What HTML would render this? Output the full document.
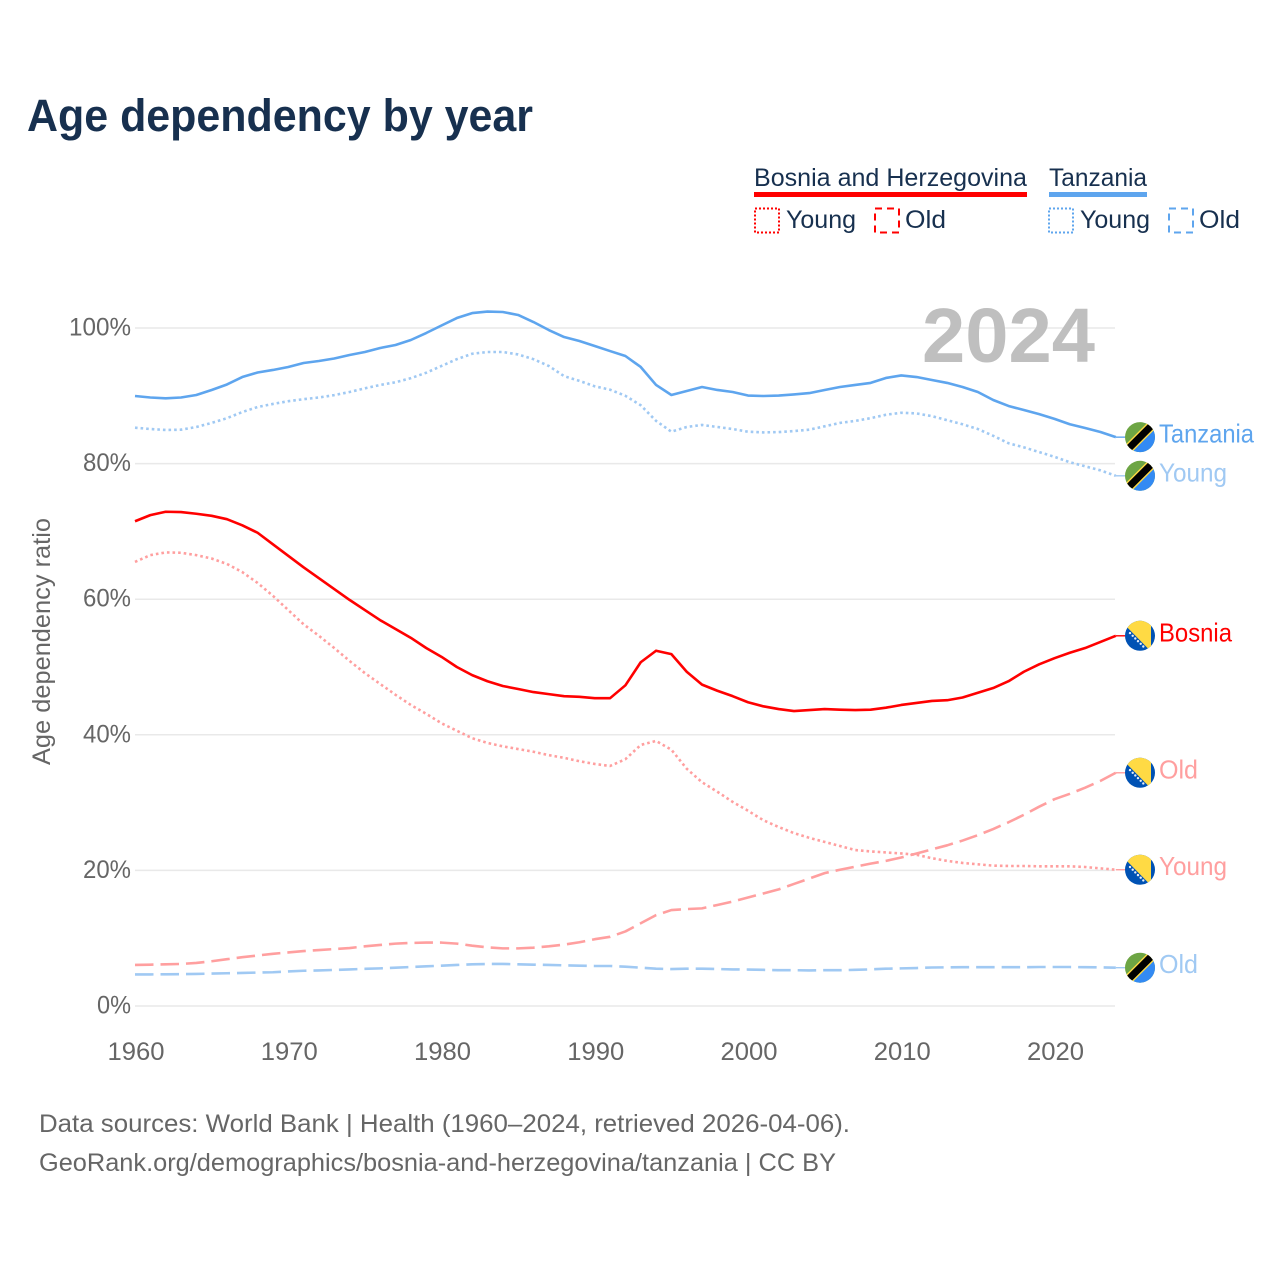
<!DOCTYPE html>
<html lang="en">
<head>
<meta charset="utf-8">
<title>Age dependency by year</title>
<style>
html,body{margin:0;padding:0;background:#fff}
svg{display:block}
text{font-family:"Liberation Sans",sans-serif}
</style>
</head>
<body>
<svg id="chart" xmlns="http://www.w3.org/2000/svg" width="1280" height="1280" viewBox="0 0 1280 1280">
<defs>
<clipPath id="flag-clip"><circle cx="0" cy="0" r="15"/></clipPath>
</defs>
<text x="27" y="131" font-size="45" font-weight="700" fill="#17304f" textLength="506" lengthAdjust="spacingAndGlyphs">Age dependency by year</text>

<g>
<text x="754" y="186" font-size="25" fill="#17304f" textLength="273" lengthAdjust="spacingAndGlyphs">Bosnia and Herzegovina</text>
<rect x="754" y="192" width="273" height="5" fill="#ff0000"/>
<text x="1049" y="186" font-size="25" fill="#17304f" textLength="98" lengthAdjust="spacingAndGlyphs">Tanzania</text>
<rect x="1049" y="192" width="98" height="5" fill="#5ea5ee"/>
<rect x="755" y="208.500" width="24" height="24" fill="none" stroke="#ff0000" stroke-width="2" stroke-dasharray="2 2"/>
<text x="786" y="228" font-size="25" fill="#17304f" textLength="70" lengthAdjust="spacingAndGlyphs">Young</text>
<rect x="875" y="208.500" width="24" height="24" fill="none" stroke="#ff0000" stroke-width="2" stroke-dasharray="7 5"/>
<text x="905" y="228" font-size="25" fill="#17304f" textLength="41" lengthAdjust="spacingAndGlyphs">Old</text>
<rect x="1049" y="208.500" width="24" height="24" fill="none" stroke="#5ea5ee" stroke-width="2" stroke-dasharray="2 2"/>
<text x="1080" y="228" font-size="25" fill="#17304f" textLength="70" lengthAdjust="spacingAndGlyphs">Young</text>
<rect x="1169" y="208.500" width="24" height="24" fill="none" stroke="#5ea5ee" stroke-width="2" stroke-dasharray="7 5"/>
<text x="1199" y="228" font-size="25" fill="#17304f" textLength="41" lengthAdjust="spacingAndGlyphs">Old</text>
</g>

<g id="grid"></g>
<g id="yticks"></g>
<g id="xticks"></g>

<text x="922" y="362" font-size="77" font-weight="700" fill="#bfbfbf" textLength="173" lengthAdjust="spacingAndGlyphs">2024</text>
<text transform="translate(50,765) rotate(-90)" font-size="25" fill="#666666" textLength="247" lengthAdjust="spacingAndGlyphs">Age dependency ratio</text>

<g id="series"></g>
<g id="end-labels"></g>

<text x="39" y="1132" font-size="25" fill="#666666" textLength="811" lengthAdjust="spacingAndGlyphs">Data sources: World Bank | Health (1960–2024, retrieved 2026-04-06).</text>
<text x="39" y="1171" font-size="25" fill="#666666" textLength="797" lengthAdjust="spacingAndGlyphs">GeoRank.org/demographics/bosnia-and-herzegovina/tanzania | CC BY</text>
</svg>

<script>
const firstYear = 1960;
const xTickLabels = [1960, 1970, 1980, 1990, 2000, 2010, 2020];
const yTickLabels = [0, 20, 40, 60, 80, 100];

const tanzaniaTotal = [89.97,89.75,89.63,89.75,90.12,90.86,91.67,92.77,93.44,93.81,
  94.25,94.84,95.13,95.5,96.02,96.46,97.05,97.49,98.23,99.26,
  100.37,101.47,102.2,102.43,102.36,101.92,100.88,99.7,98.67,98.08,
  97.35,96.6,95.87,94.25,91.6,90.12,90.7,91.3,90.86,90.56,
  90.04,89.97,90.04,90.2,90.4,90.86,91.3,91.6,91.9,92.63,
  93.0,92.77,92.33,91.9,91.3,90.56,89.38,88.5,87.9,87.3,
  86.6,85.8,85.25,84.66,83.9];
const tanzaniaYoung = [85.3,85.1,84.96,85.0,85.4,86.0,86.7,87.6,88.35,88.8,
  89.2,89.5,89.75,90.1,90.56,91.1,91.6,92.0,92.6,93.4,
  94.4,95.4,96.2,96.46,96.46,96.1,95.4,94.4,92.9,92.2,
  91.4,90.9,90.0,88.6,86.3,84.7,85.4,85.7,85.4,85.1,
  84.7,84.6,84.65,84.8,85.0,85.5,86.0,86.3,86.7,87.2,
  87.5,87.4,87.0,86.4,85.8,85.1,84.1,83.0,82.4,81.7,
  81.0,80.2,79.6,79.0,78.2];
const tanzaniaOld = [4.65,4.66,4.68,4.7,4.73,4.78,4.83,4.88,4.93,4.98,
  5.1,5.2,5.25,5.32,5.4,5.48,5.55,5.65,5.75,5.85,
  5.95,6.05,6.15,6.2,6.2,6.15,6.1,6.05,6,5.95,
  5.9,5.9,5.8,5.65,5.5,5.45,5.5,5.5,5.45,5.4,
  5.38,5.33,5.28,5.28,5.25,5.28,5.28,5.33,5.4,5.5,
  5.55,5.6,5.68,5.7,5.72,5.72,5.72,5.72,5.72,5.75,
  5.75,5.75,5.72,5.7,5.65];
const bosniaTotal = [71.5,72.4,72.9,72.85,72.6,72.3,71.8,70.9,69.8,68.1,
  66.4,64.7,63.1,61.5,59.9,58.4,56.9,55.6,54.3,52.8,
  51.5,50,48.8,47.9,47.2,46.75,46.3,46,45.7,45.6,
  45.4,45.4,47.3,50.7,52.4,51.9,49.3,47.4,46.5,45.7,
  44.8,44.2,43.8,43.5,43.65,43.8,43.7,43.65,43.7,44.0,
  44.4,44.7,45,45.1,45.5,46.2,46.9,47.9,49.3,50.4,
  51.3,52.1,52.8,53.7,54.6];
const bosniaYoung = [65.5,66.5,66.9,66.85,66.5,66,65.2,64,62.4,60.5,
  58.4,56.3,54.6,52.8,50.9,49.1,47.5,45.9,44.4,43.1,
  41.7,40.6,39.5,38.8,38.3,37.9,37.5,37,36.6,36.1,
  35.7,35.4,36.4,38.5,39.1,37.8,35,33,31.6,30.1,
  28.8,27.4,26.4,25.5,24.8,24.2,23.6,23,22.8,22.65,
  22.5,22.3,21.8,21.4,21.1,20.9,20.7,20.65,20.65,20.6,
  20.6,20.6,20.5,20.3,20.1];
const bosniaOld = [6.05,6.1,6.15,6.2,6.35,6.6,6.9,7.2,7.45,7.7,
  7.9,8.1,8.25,8.4,8.55,8.8,9,9.2,9.3,9.35,
  9.35,9.2,8.9,8.65,8.5,8.5,8.6,8.8,9.05,9.4,
  9.85,10.2,11,12.2,13.4,14.15,14.3,14.4,14.9,15.4,
  16,16.6,17.2,18,18.8,19.6,20.1,20.55,21,21.4,
  21.9,22.5,23.1,23.7,24.4,25.2,26.1,27.1,28.2,29.4,
  30.5,31.3,32.2,33.2,34.4];

const SVGNS = 'http://www.w3.org/2000/svg';
const xAxis = year => 135 + (year - firstYear) * 15.325;
const yAxis = value => 1006 - value * 6.78;

function make(tag, attrs, parent) {
  const el = document.createElementNS(SVGNS, tag);
  for (const k in attrs) el.setAttribute(k, attrs[k]);
  parent.appendChild(el);
  return el;
}

const gridG = document.getElementById('grid');
const yG = document.getElementById('yticks');
const xG = document.getElementById('xticks');
const seriesG = document.getElementById('series');
const labelsG = document.getElementById('end-labels');

yTickLabels.forEach(v => {
  const line = make('line', {x1: 135, x2: 1115, y1: yAxis(v), y2: yAxis(v), stroke: '#e9e9e9', 'stroke-width': 1.5}, gridG);
  
  
  const t = make('text', {x: 131, y: yAxis(v) + 7.5, 'text-anchor': 'end', 'font-size': 25, fill: '#666666', textLength: 14 * String(v).length + 20, lengthAdjust: 'spacingAndGlyphs'}, yG);
  
  
  t.textContent = v + '%';
});

xTickLabels.forEach(v => {
  const t = make('text', {x: xAxis(v) + 1, y: 1060, 'text-anchor': 'middle', 'font-size': 25, fill: '#666666', textLength: 57, lengthAdjust: 'spacingAndGlyphs'}, xG);
  
  
  t.textContent = v;
});

function drawLine(values, color, dash, name) {
  const pts = values.map((v, i) => xAxis(firstYear + i).toFixed(2) + ',' + yAxis(v).toFixed(2));
  const attrs = {points: pts.join(' '), fill: 'none', stroke: color, 'stroke-width': 2.6, 'stroke-linejoin': 'round'};
  if (dash) attrs['stroke-dasharray'] = dash;
  const el = make('polyline', attrs, seriesG);
  
  
  const lastY = yAxis(values[values.length - 1]);
  const stub = make('line', {x1: xAxis(firstYear + values.length - 1), x2: 1125, y1: lastY, y2: lastY, stroke: color, 'stroke-width': 1.4}, seriesG);
  
  
}

const DOT = '2.6 3';
const DASH = '18.500 7';
drawLine(tanzaniaOld, '#a0c9f3', DASH, 'line-tanzania-old');
drawLine(tanzaniaYoung, '#a0c9f3', DOT, 'line-tanzania-young');
drawLine(bosniaOld, '#ff9f9f', DASH, 'line-bosnia-old');
drawLine(bosniaYoung, '#ff9f9f', DOT, 'line-bosnia-young');
drawLine(tanzaniaTotal, '#5ea5ee', '', 'line-tanzania-total');
drawLine(bosniaTotal, '#ff0000', '', 'line-bosnia-total');

function drawTanzaniaFlag(g) {
  make('rect', {x: -16, y: -16, width: 32, height: 32, fill: '#6da544'}, g);
  make('polygon', {points: '-16,16 16,-16 16,16', fill: '#338af3'}, g);
  make('polygon', {points: '-16,9 9,-16 16,-16 16,-9 -9,16 -16,16', fill: '#ffda44'}, g);
  make('polygon', {points: '-16,11 11,-16 16,-16 16,-11 -11,16 -16,16', fill: '#000000'}, g);
}

function drawBosniaFlag(g) {
  make('rect', {x: -16, y: -16, width: 32, height: 32, fill: '#0052b4'}, g);
  make('polygon', {points: '-15,-10.700 9,13.700 11,13.700 11,-16 -15,-16', fill: '#ffda44'}, g);
  [[-10,-2.700],[-7.300,0],[-4.700,2.700],[-2,5.400],[0.700,8],[3.300,10.700]].forEach(p => {
    make('circle', {cx: p[0], cy: p[1], r: 1.2, fill: '#e8eef7'}, g);
  });
}

function drawEnd(values, label, color, flag, width, name) {
  const cy = yAxis(values[values.length - 1]);
  const g = make('g', {transform: 'translate(1140,' + cy.toFixed(2) + ')', 'clip-path': 'url(#flag-clip)'}, labelsG);
  
  
  flag(g);
  const t = make('text', {x: 1159, y: cy + 5.5, 'font-size': 26, fill: color, textLength: width, lengthAdjust: 'spacingAndGlyphs'}, labelsG);
  
  
  t.textContent = label;
}

drawEnd(tanzaniaTotal, 'Tanzania', '#5ea5ee', drawTanzaniaFlag, 95, 'end-tanzania-total');
drawEnd(tanzaniaYoung, 'Young', '#a0c9f3', drawTanzaniaFlag, 68, 'end-tanzania-young');
drawEnd(bosniaTotal, 'Bosnia', '#ff0000', drawBosniaFlag, 73, 'end-bosnia-total');
drawEnd(bosniaOld, 'Old', '#ff9f9f', drawBosniaFlag, 39, 'end-bosnia-old');
drawEnd(bosniaYoung, 'Young', '#ff9f9f', drawBosniaFlag, 68, 'end-bosnia-young');
drawEnd(tanzaniaOld, 'Old', '#a0c9f3', drawTanzaniaFlag, 39, 'end-tanzania-old');
</script>
</body>
</html>
